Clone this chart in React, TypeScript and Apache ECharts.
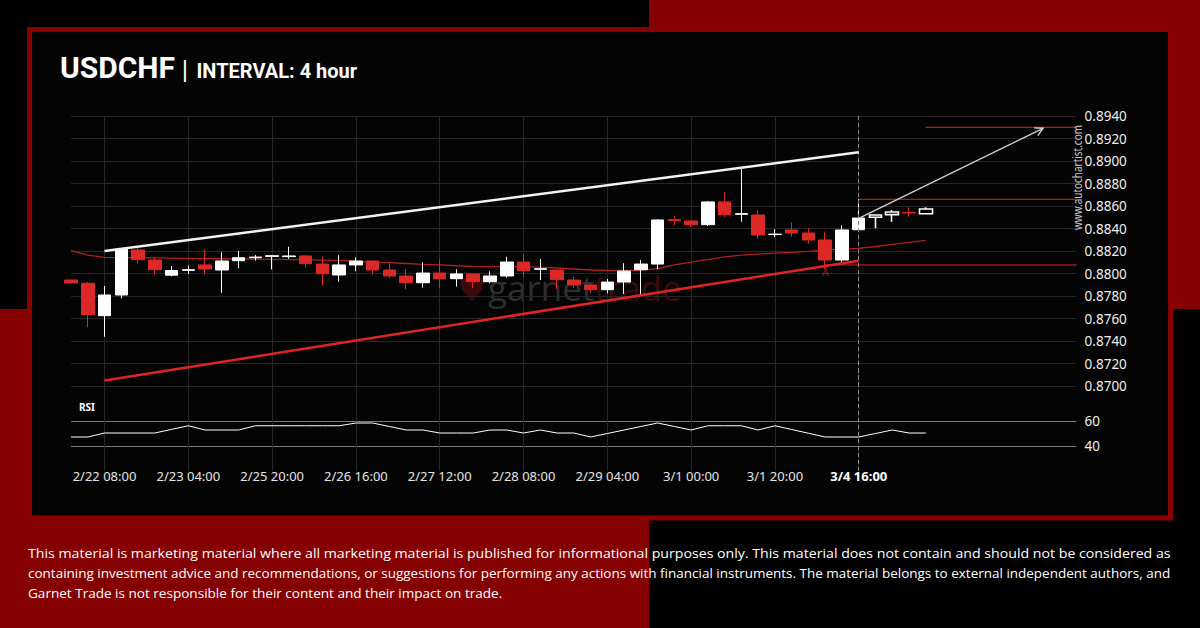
import React, { useEffect, useRef } from 'react';
import * as echarts from 'echarts';

// ---------- data ----------
const slotCount = 61; // 52 candles + empty projection slots
const categories = Array.from({ length: slotCount }, (_, i) => `slot${i}`);
const tickIndices = [2, 7, 12, 17, 22, 27, 32, 37, 42, 47];
const tickLabels = ['2/22 08:00', '2/23 04:00', '2/25 20:00', '2/26 16:00', '2/27 12:00', '2/28 08:00', '2/29 04:00', '3/1 00:00', '3/1 20:00', '3/4 16:00'];
const boldTickIndex = 47;

const opens = [0.87942, 0.87913, 0.87625, 0.87809, 0.88209, 0.8812, 0.87985, 0.88028, 0.88076, 0.88031, 0.88114, 0.8814, 0.88152, 0.8815, 0.88156, 0.88084, 0.87987, 0.88076, 0.88111, 0.88031, 0.87978, 0.87918, 0.88004, 0.87954, 0.87996, 0.87927, 0.87978, 0.88102, 0.88038, 0.88031, 0.87942, 0.87898, 0.87856, 0.87924, 0.88034, 0.88084, 0.88478, 0.88467, 0.88434, 0.88636, 0.88526, 0.8852, 0.88346, 0.88387, 0.8836, 0.88298, 0.8812, 0.88389, 0.885, 0.88523, 0.88542, 0.88531];
const closes = [0.87916, 0.87634, 0.87809, 0.88218, 0.88123, 0.88034, 0.88027, 0.88034, 0.8804, 0.88111, 0.8814, 0.88146, 0.88158, 0.88156, 0.88087, 0.87998, 0.88076, 0.88111, 0.88031, 0.87978, 0.87918, 0.88004, 0.87954, 0.87996, 0.87927, 0.87978, 0.88102, 0.88025, 0.88042, 0.87945, 0.87898, 0.87856, 0.87924, 0.88022, 0.88084, 0.88476, 0.8847, 0.88434, 0.88636, 0.88523, 0.88532, 0.88342, 0.8835, 0.8836, 0.88298, 0.8812, 0.88387, 0.88493, 0.8852, 0.88547, 0.88538, 0.88573];
const lows = [0.8791, 0.87522, 0.87438, 0.8778, 0.88091, 0.87991, 0.87975, 0.87997, 0.87991, 0.87829, 0.88046, 0.88114, 0.88036, 0.88131, 0.88055, 0.87892, 0.87927, 0.8802, 0.87993, 0.87957, 0.8786, 0.87874, 0.87868, 0.87883, 0.87868, 0.87913, 0.87963, 0.87971, 0.87942, 0.87862, 0.87868, 0.87829, 0.87824, 0.87818, 0.87809, 0.88037, 0.88428, 0.8841, 0.88422, 0.885, 0.8846, 0.88309, 0.88324, 0.88327, 0.88265, 0.8804, 0.881, 0.88389, 0.88402, 0.8846, 0.88505, 0.88531];
const highs = [0.87945, 0.87924, 0.87889, 0.88225, 0.8823, 0.88144, 0.88065, 0.88071, 0.88215, 0.88188, 0.882, 0.88164, 0.88164, 0.88238, 0.88164, 0.88149, 0.88162, 0.88144, 0.88115, 0.88091, 0.88037, 0.881, 0.88126, 0.88037, 0.88, 0.8802, 0.88149, 0.88173, 0.88129, 0.88035, 0.87971, 0.87904, 0.87951, 0.88091, 0.8812, 0.8848, 0.88511, 0.8847, 0.88644, 0.88724, 0.88929, 0.88564, 0.88393, 0.88455, 0.88404, 0.88366, 0.88428, 0.8866, 0.88522, 0.88564, 0.88588, 0.88588];
const hollowCandles = [48, 49, 51];

const maValues = [0.88204, 0.88164, 0.88144, 0.88142, 0.8814, 0.88138, 0.88136, 0.88134, 0.88132, 0.88131, 0.88129, 0.88127, 0.88125, 0.88124, 0.88122, 0.88119, 0.88116, 0.88109, 0.88102, 0.88096, 0.88089, 0.88082, 0.88076, 0.88069, 0.88064, 0.88062, 0.88062, 0.88061, 0.88056, 0.88049, 0.8804, 0.88031, 0.88027, 0.88027, 0.88028, 0.88044, 0.88076, 0.88102, 0.88124, 0.88147, 0.88164, 0.88173, 0.88182, 0.88188, 0.88196, 0.88209, 0.88218, 0.88224, 0.8824, 0.88258, 0.88276, 0.88295];
const rsiValues = [47.2, 47.2, 50.4, 50.4, 50.4, 50.4, 53.3, 56.2, 52.8, 52.8, 52.8, 56.2, 56.2, 56.2, 56.2, 56.2, 56.2, 58.4, 58.4, 55.6, 52.8, 52.8, 50.4, 50.4, 50.4, 52.8, 52.8, 50.4, 52.8, 50.4, 50.4, 47.2, 50.0, 52.8, 55.6, 58.4, 55.6, 52.8, 56.2, 56.2, 56.2, 52.8, 56.2, 53.2, 50.2, 47.2, 47.2, 47.2, 50.0, 52.8, 50.4, 50.4];

const upperTrend = [[2, 0.882], [47, 0.89077]];
const lowerTrend = [[2, 0.87049], [47, 0.88114]];
const resistanceLevel = { from: 47, value: 0.8866 };
const supportLevel = { from: 45, value: 0.88076 };
const targetLevel = { from: 51, value: 0.893 };
const arrowSegment = [47, 0.88491, 58, 0.89291];
const patternMark = [45, 0.88022];
const priceAxis = { min: 0.87, max: 0.894, interval: 0.002 };
const rsiAxis = { min: 20, max: 100, interval: 20, shown: [40, 60] };

const disclaimerLines = [
  'This material is marketing material where all marketing material is published for informational purposes only. This material does not contain and should not be considered as',
  'containing investment advice and recommendations, or suggestions for performing any actions with financial instruments. The material belongs to external independent authors, and',
  'Garnet Trade is not responsible for their content and their impact on trade.',
];

const RED = '#dd2828';
const BG_RED = '#850000';

export default function App() {
  const ref = useRef<HTMLDivElement>(null);
  useEffect(() => {
    if (!ref.current) return;
    const chart = echarts.init(ref.current, null, { renderer: 'svg' });
    const ctx = document.createElement('canvas').getContext('2d')!;
    const measure = (t: string, font: string) => { ctx.font = font; return ctx.measureText(t).width || 1; };
    const discFont = '13px "Open Sans"';
    const discTargets = [1144, 1144, 475];
    const siteText = 'www.autochartist.com';
    const siteScale = 105 / measure(siteText, '13px "Noto Sans"');

    const lvl = (l: { from: number; value: number }) => [[categories[l.from], l.value], [categories[slotCount - 1], l.value]];
    const pair = (arr: number[][]) => arr.map(([x, y]) => [categories[x], y]);

    const candleData = opens.map((o, i) => {
      const v = [o, closes[i], lows[i], highs[i]];
      return hollowCandles.includes(i)
        ? { value: v, itemStyle: { color: '#000', borderColor: '#fff', borderWidth: 1.6 } }
        : v;
    });

    const isTick = (i: number) => tickIndices.includes(i);
    const xBase = {
      type: 'category', data: categories, boundaryGap: false,
      axisLine: { show: false }, axisTick: { show: false },
      splitLine: { show: true, interval: (i: number) => isTick(i), lineStyle: { color: '#262626', width: 1 } },
    };
    const lineSeries = (data: any, color: string, width: number, z = 3) => ({
      type: 'line', data, symbol: 'none', silent: true, z,
      lineStyle: { color, width }, xAxisIndex: 0, yAxisIndex: 0,
    });

    const option: any = {
      animation: false,
      backgroundColor: '#000',
      grid: [
        { left: 71, right: 123.4, top: 116, height: 270, outerBoundsMode: 'none' },
        { left: 71, right: 123.4, top: 371, height: 100, outerBoundsMode: 'none' },
      ],
      xAxis: [
        {
          ...xBase, gridIndex: 0,
          axisLabel: {
            show: true, interval: (i: number) => isTick(i), margin: 83,
            color: '#e4e4e4', fontSize: 13, fontFamily: 'Noto Sans',
            formatter: (_v: string, i: number) => {
              const k = tickIndices.indexOf(i);
              if (k < 0) return '';
              return i === boldTickIndex ? `{b|${tickLabels[k]}}` : tickLabels[k];
            },
            rich: { b: { fontWeight: 'bold', color: '#ffffff', fontSize: 13, fontFamily: 'Noto Sans' } },
          },
        },
        { ...xBase, gridIndex: 1, axisLabel: { show: false } },
      ],
      yAxis: [
        {
          type: 'value', gridIndex: 0, position: 'right', min: priceAxis.min, max: priceAxis.max, interval: priceAxis.interval,
          axisLine: { show: false }, axisTick: { show: false },
          axisLabel: { color: '#eeeeee', fontSize: 13.5, fontFamily: 'Noto Sans', margin: 8, formatter: (v: number) => v.toFixed(4) },
          splitLine: { lineStyle: { color: '#262626', width: 1 } },
        },
        {
          type: 'value', gridIndex: 1, position: 'right', min: rsiAxis.min, max: rsiAxis.max, interval: rsiAxis.interval,
          axisLine: { show: false }, axisTick: { show: false },
          axisLabel: { color: '#eeeeee', fontSize: 13.5, fontFamily: 'Noto Sans', margin: 8, formatter: (v: number) => (rsiAxis.shown.includes(Math.round(v)) ? String(Math.round(v)) : '') },
          splitLine: { lineStyle: { color: ['rgba(0,0,0,0)', '#7a7a7a', '#7a7a7a', 'rgba(0,0,0,0)', 'rgba(0,0,0,0)'], width: 1 } },
        },
      ],
      series: [
        {
          type: 'candlestick', xAxisIndex: 0, yAxisIndex: 0, data: candleData, barWidth: 13, silent: true, z: 4,
          itemStyle: { color: '#ffffff', color0: RED, borderColor: '#ffffff', borderColor0: RED, borderWidth: 1 },
          markLine: {
            silent: true, symbol: 'none', label: { show: false },
            lineStyle: { color: '#8a8a8a', width: 1, type: [4, 3] },
            data: [{ xAxis: categories[boldTickIndex] }],
          },
        },
        lineSeries(maValues, '#b01e1e', 1.3, 3),
        lineSeries(pair(upperTrend), '#f2f2f2', 2.5, 5),
        lineSeries(pair(lowerTrend), '#e02424', 2.5, 5),
        lineSeries(lvl(resistanceLevel), '#e52222', 1, 3),
        lineSeries(lvl(supportLevel), '#e52222', 1, 3),
        lineSeries(lvl(targetLevel), '#e52222', 1, 3),
        {
          type: 'custom', xAxisIndex: 0, yAxisIndex: 0, silent: true, z: 6,
          data: [[categories[arrowSegment[0]], arrowSegment[1], arrowSegment[2], arrowSegment[3]]],
          encode: { x: 0, y: 1 },
          renderItem: (_p: any, api: any) => {
            const p0 = api.coord([api.value(0), api.value(1)]);
            const p1 = api.coord([api.value(2), api.value(3)]);
            const a = Math.atan2(p1[1] - p0[1], p1[0] - p0[0]);
            const L = 9;
            const b1 = [p1[0] - L * Math.cos(a - 0.5), p1[1] - L * Math.sin(a - 0.5)];
            const b2 = [p1[0] - L * Math.cos(a + 0.5), p1[1] - L * Math.sin(a + 0.5)];
            const st = { stroke: '#cfcfcf', lineWidth: 1.4, fill: 'none' };
            return {
              type: 'group', children: [
                { type: 'line', shape: { x1: p0[0], y1: p0[1], x2: p1[0], y2: p1[1] }, style: st },
                { type: 'polyline', shape: { points: [b1, p1, b2] }, style: st },
              ],
            };
          },
        },
        {
          type: 'scatter', xAxisIndex: 0, yAxisIndex: 0, silent: true, z: 6,
          data: [[categories[patternMark[0]], patternMark[1]]], symbolSize: 1, itemStyle: { color: 'rgba(0,0,0,0)' },
          label: { show: true, position: 'inside', formatter: 'A', color: '#b82020', fontSize: 11, fontFamily: 'Noto Sans' },
        },
        {
          type: 'line', xAxisIndex: 1, yAxisIndex: 1, data: rsiValues, symbol: 'none', silent: true, z: 4,
          lineStyle: { color: '#ffffff', width: 1 },
          markLine: {
            silent: true, symbol: 'none', label: { show: false },
            lineStyle: { color: '#8a8a8a', width: 1, type: [4, 3] },
            data: [{ xAxis: categories[boldTickIndex] }],
          },
        },
      ],
      graphic: [
        { type: 'rect', z: -20, silent: true, shape: { x: 649, y: 0, width: 551, height: 309 }, style: { fill: BG_RED } },
        { type: 'rect', z: -20, silent: true, shape: { x: 0, y: 309, width: 649, height: 319 }, style: { fill: BG_RED } },
        { type: 'rect', z: -19, silent: true, shape: { x: 29.5, y: 29.5, width: 1141, height: 488.5 }, style: { fill: '#040404', stroke: '#8a0000', lineWidth: 5 } },
        // watermark
        { type: 'polygon', z: -5, silent: true, shape: { points: [[460, 278], [485, 278], [482, 290], [472, 301], [462, 290]] }, style: { fill: '#3a0a0a' } },
        {
          type: 'text', z: -5, silent: true, x: 488, y: 287,
          style: {
            text: '{a|garnet}{b|trade}', align: 'left', verticalAlign: 'middle',
            rich: {
              a: { fontSize: 35, fontFamily: 'Open Sans', fill: '#2e2e2e' },
              b: { fontSize: 35, fontFamily: 'Open Sans', fill: '#3a0c0c' },
            },
          },
        },
        // title
        { type: 'text', z: 10, silent: true, x: 60, y: 67, style: { text: 'USDCHF', fill: '#ffffff', fontSize: 30, fontWeight: 'bold', fontFamily: 'Roboto', align: 'left', verticalAlign: 'middle' } },
        { type: 'text', z: 10, silent: true, x: 185, y: 70, style: { text: '|', fill: '#ffffff', fontSize: 26, fontWeight: 'normal', fontFamily: 'Roboto', align: 'center', verticalAlign: 'middle' } },
        { type: 'text', z: 10, silent: true, x: 196.5, y: 70.5, style: { text: 'INTERVAL: 4 hour', fill: '#ffffff', fontSize: 20, fontWeight: 'bold', fontFamily: 'Roboto', align: 'left', verticalAlign: 'middle' } },
        // RSI label
        { type: 'text', z: 10, silent: true, x: 79, y: 406.5, style: { text: 'RSI', fill: '#ffffff', fontSize: 10, fontWeight: 'bold', fontFamily: 'Noto Sans', align: 'left', verticalAlign: 'middle' } },
        // site
        { type: 'text', z: 10, silent: true, x: 1076.7, y: 177.5, rotation: Math.PI / 2, scaleX: siteScale, style: { text: siteText, fill: '#c8c8c8', fontSize: 13, fontFamily: 'Noto Sans', align: 'center', verticalAlign: 'middle' } },
        // disclaimer
        ...disclaimerLines.map((t, i) => ({
          type: 'text', z: 10, silent: true, x: 28, y: 553 + i * 20,
          scaleX: discTargets[i] / measure(t, discFont),
          style: { text: t, fill: '#ffffff', fontSize: 13, fontFamily: 'Open Sans', align: 'left', verticalAlign: 'middle' },
        })),
      ],
    };
    chart.setOption(option);
    return () => chart.dispose();
  }, []);
  return <div ref={ref} style={{ position: 'fixed', left: 0, top: 0, width: 1200, height: 628 }} />;
}
